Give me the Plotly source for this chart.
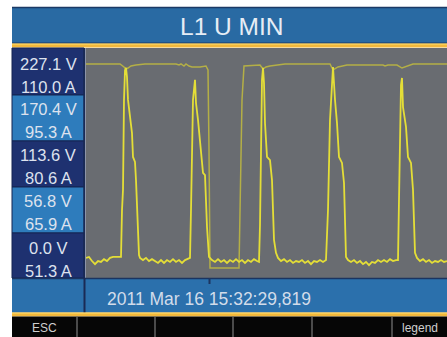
import plotly.graph_objects as go

# ---------------- data ----------------
# voltage trace (V) vs sample index
volt_x = [0, 34, 38, 40, 42, 45, 50, 59, 90, 93, 95, 98, 100, 103, 106, 114, 120, 122, 123, 124,
          153, 154, 156, 158, 169, 174, 177, 180, 184, 199, 244, 247, 252, 261, 297, 299, 302,
          311, 316, 322, 327, 361]
volt_v = [237.0, 237.0, 233.3, 230.8, 232.0, 234.5, 235.7, 237.0, 237.0, 235.7, 237.0, 234.5, 237.0,
          234.5, 233.3, 233.3, 234.5, 229.6, 130.8, -14.8, -14.8, 69.1, 192.5, 234.5, 235.7, 235.7,
          230.8, 233.3, 234.5, 237.0, 237.0, 229.6, 233.3, 235.7, 235.7, 234.5, 235.7, 235.7, 232.0,
          234.5, 237.0, 237.0]

# current trace (A) vs sample index
curr_x_seg1 = [0, 3, 6, 9, 12, 15, 18, 21, 24, 27, 31, 35, 36, 37, 38, 39, 40, 41, 42, 44, 46, 47,
               49, 50, 51, 52, 53, 54]
curr_a_seg1 = [50.7, 51.0, 49.7, 48.7, 49.7, 49.4, 50.3, 49.7, 50.7, 51.0, 51.0, 51.0, 66.0, 72.4,
               101.1, 110.6, 111.3, 108.4, 101.1, 94.7, 90.5, 82.9, 81.3, 75.5, 65.0, 58.0, 51.6, 50.7]
curr_x_seg2 = [57, 60, 63, 66, 69, 72, 75, 78, 81, 84, 87, 90, 93, 96, 99, 102, 104,
               105, 106, 107, 109, 110, 112, 114, 117, 119, 121, 123]
curr_a_seg2 = [50.0, 50.7, 49.7, 50.3, 49.7, 49.1, 50.0, 49.1, 50.0, 49.4, 50.3, 49.4, 50.0, 49.1,
               50.0, 50.3, 50.7, 66.0, 85.1, 101.1, 107.5, 100.1, 94.7, 88.3, 77.8, 77.1, 60.6, 51.0]
curr_x_seg3 = [126, 129, 132, 135, 138, 141, 144, 147, 150, 153, 156, 159, 162, 165, 168, 171, 173,
               174, 175, 176, 177, 178, 179, 181, 184, 186, 188, 190, 192]
curr_a_seg3 = [50.0, 49.4, 50.3, 49.4, 50.0, 49.1, 50.0, 49.4, 50.3, 49.4, 50.0, 49.1, 50.0, 49.4,
               50.3, 49.7, 49.4, 61.2, 94.7, 107.5, 111.3, 106.5, 93.7, 82.9, 81.9, 75.5, 56.4, 52.3, 50.7]
curr_x_seg4 = [195, 198, 201, 204, 207, 210, 213, 216, 219, 222, 225, 228, 231, 234, 237, 240,
               242, 244, 246, 247, 249, 251, 253, 256, 258, 260, 262]
curr_a_seg4 = [49.7, 50.3, 49.4, 50.0, 49.1, 49.7, 49.4, 50.0, 49.1, 49.7, 48.7, 49.7, 49.4, 50.0,
               49.4, 50.0, 66.0, 94.7, 109.0, 111.6, 101.1, 93.7, 82.9, 81.0, 74.6, 51.0, 50.0]
curr_x_seg5 = [265, 268, 271, 274, 277, 280, 283, 286, 289, 292, 295, 298, 301, 304, 307, 310, 312,
               313, 314, 315, 316, 317, 320, 322, 325, 327, 329, 331]
curr_a_seg5 = [49.4, 50.0, 49.1, 49.7, 48.7, 49.4, 48.4, 49.4, 49.1, 50.0, 49.4, 50.0, 49.4, 50.3,
               49.7, 50.0, 50.0, 69.2, 94.7, 105.9, 108.1, 98.8, 92.5, 82.9, 81.0, 72.4, 52.3, 50.7]
curr_x_seg6 = [334, 337, 340, 343, 346, 349, 352, 355, 358, 361]
curr_a_seg6 = [49.7, 50.3, 49.4, 50.0, 49.1, 49.7, 49.4, 50.0, 49.4, 49.7]

# scale labels
tick_volts = [227.1, 170.4, 113.6, 56.8, 0.0]
tick_amps = [110.0, 95.3, 80.6, 65.9, 51.3]
title_text = "L1 U MIN"
timestamp_text = "2011 Mar 16 15:32:29,819"
button_labels = ["ESC", "", "", "", "", "legend"]

curr_x = curr_x_seg1 + curr_x_seg2 + curr_x_seg3 + curr_x_seg4 + curr_x_seg5 + curr_x_seg6
curr_a = curr_a_seg1 + curr_a_seg2 + curr_a_seg3 + curr_a_seg4 + curr_a_seg5 + curr_a_seg6

# ---------------- layout helpers ----------------
W, H = 447, 337
FONT = "Liberation Sans, Arial, sans-serif"


def px(x):
    return x / W


def py(y):
    return 1 - y / H


def rect(x0, y0, x1, y1, fill, line_color=None, lw=0):
    return dict(type="rect", xref="paper", yref="paper",
                x0=px(x0), x1=px(x1), y0=py(y1), y1=py(y0),
                fillcolor=fill,
                line=dict(color=line_color or fill, width=lw))


def line(x0, y0, x1, y1, color, lw):
    return dict(type="line", xref="paper", yref="paper",
                x0=px(x0), x1=px(x1), y0=py(y0), y1=py(y1),
                line=dict(color=color, width=lw))


PLOT_TOP, PLOT_BOT = 48, 278

fig = go.Figure()
fig.add_trace(go.Scatter(x=volt_x, y=volt_v, mode="lines", yaxis="y",
                         line=dict(color="rgb(180,175,70)", width=1.5), hoverinfo="skip"))
fig.add_trace(go.Scatter(x=curr_x, y=curr_a, mode="lines", yaxis="y2",
                         line=dict(color="rgb(228,222,55)", width=1.8), hoverinfo="skip"))

shapes = []
# title bar
shapes.append(rect(12, 7, 447, 43.5, "#296aa3"))
shapes.append(line(12, 7.5, 447, 7.5, "#1b3a66", 1.5))
shapes.append(line(12, 43, 447, 43, "#1b3a66", 1))
shapes.append(rect(12, 43.5, 447, 47.5, "#f2b83c"))
shapes.append(line(12, 44.3, 447, 44.3, "#fad25a", 1))
# left scale boxes
box_edges = [PLOT_TOP, 95, 141, 187, 233, PLOT_BOT]
for i in range(5):
    fill = "#1e3170" if i % 2 == 0 else "#2e7cbc"
    shapes.append(rect(12, box_edges[i], 84, box_edges[i + 1], fill, "#142552", 1))
# bottom timestamp bar
shapes.append(rect(12, PLOT_BOT, 447, 312.5, "#2b70ac"))
shapes.append(line(12, PLOT_BOT + 0.5, 447, PLOT_BOT + 0.5, "#1b3460", 1.5))
shapes.append(line(84.5, PLOT_TOP, 84.5, 312.5, "#1a2a55", 2))
shapes.append(line(209.5, PLOT_BOT, 209.5, 284, "#1d3560", 2))
shapes.append(rect(12, 312.5, 447, 316.5, "#f2b83c"))
shapes.append(line(12, 313.3, 447, 313.3, "#fad25a", 1))
# button bar
shapes.append(rect(12, 316.5, 447, 337, "#060606"))
for sx in [77, 155, 233, 312, 392]:
    shapes.append(line(sx, 317, sx, 337, "#4a4a4a", 2))

annotations = []
annotations.append(dict(text=title_text, xref="paper", yref="paper", x=px(232), y=py(26),
                        xanchor="center", yanchor="middle", showarrow=False,
                        font=dict(family=FONT, size=24.5, color="#e6edf5")))
annotations.append(dict(text=timestamp_text, xref="paper", yref="paper", x=px(105), y=py(299),
                        xanchor="left", yanchor="middle", showarrow=False,
                        font=dict(family=FONT, size=17.5, color="#d2dcea")))
btn_centers = [44.5, 116, 194, 272.5, 352, 420]
for lab, cx in zip(button_labels, btn_centers):
    if lab:
        annotations.append(dict(text=lab, xref="paper", yref="paper", x=px(cx), y=py(328),
                                xanchor="center", yanchor="middle", showarrow=False,
                                font=dict(family=FONT, size=12, color="#cfcfcf")))
for v, a in zip(tick_volts, tick_amps):
    annotations.append(dict(text=f"{v:.1f} V", xref="paper", yref="y", x=px(48), y=v,
                            yshift=8.5, xanchor="center", yanchor="middle", showarrow=False,
                            font=dict(family=FONT, size=16.5, color="#dde2ee")))
    annotations.append(dict(text=f"{a:.1f} A", xref="paper", yref="y", x=px(48), y=v,
                            yshift=-14.5, xanchor="center", yanchor="middle", showarrow=False,
                            font=dict(family=FONT, size=16.5, color="#dde2ee")))

V_PER_PX = 227.1 / 184
A_PER_PX = (110.0 - 51.3) / 184
ZERO_PX = 256

fig.update_layout(
    width=W, height=H,
    margin=dict(l=0, r=0, t=0, b=0),
    paper_bgcolor="white",
    plot_bgcolor="#696c71",
    showlegend=False,
    shapes=shapes,
    annotations=annotations,
    xaxis=dict(domain=[px(86), 1], range=[0, 361], showgrid=False, zeroline=False,
               showticklabels=False, ticks="", showline=False, fixedrange=True),
    yaxis=dict(domain=[py(PLOT_BOT), py(PLOT_TOP)],
               range=[(ZERO_PX - PLOT_BOT) * V_PER_PX, (ZERO_PX - PLOT_TOP) * V_PER_PX],
               tickvals=tick_volts, ticks="outside", ticklen=5, tickwidth=1.5,
               tickcolor="#a9bcd8", showticklabels=False, showgrid=False, zeroline=False,
               showline=False, fixedrange=True),
    yaxis2=dict(overlaying="y",
                range=[51.3 + (ZERO_PX - PLOT_BOT) * A_PER_PX, 51.3 + (ZERO_PX - PLOT_TOP) * A_PER_PX],
                showgrid=False, zeroline=False, showticklabels=False, ticks="",
                showline=False, fixedrange=True),
)

fig.write_html("out.html", config={"displayModeBar": False},
               post_script="document.body.style.margin='0';document.body.style.overflow='hidden';")
